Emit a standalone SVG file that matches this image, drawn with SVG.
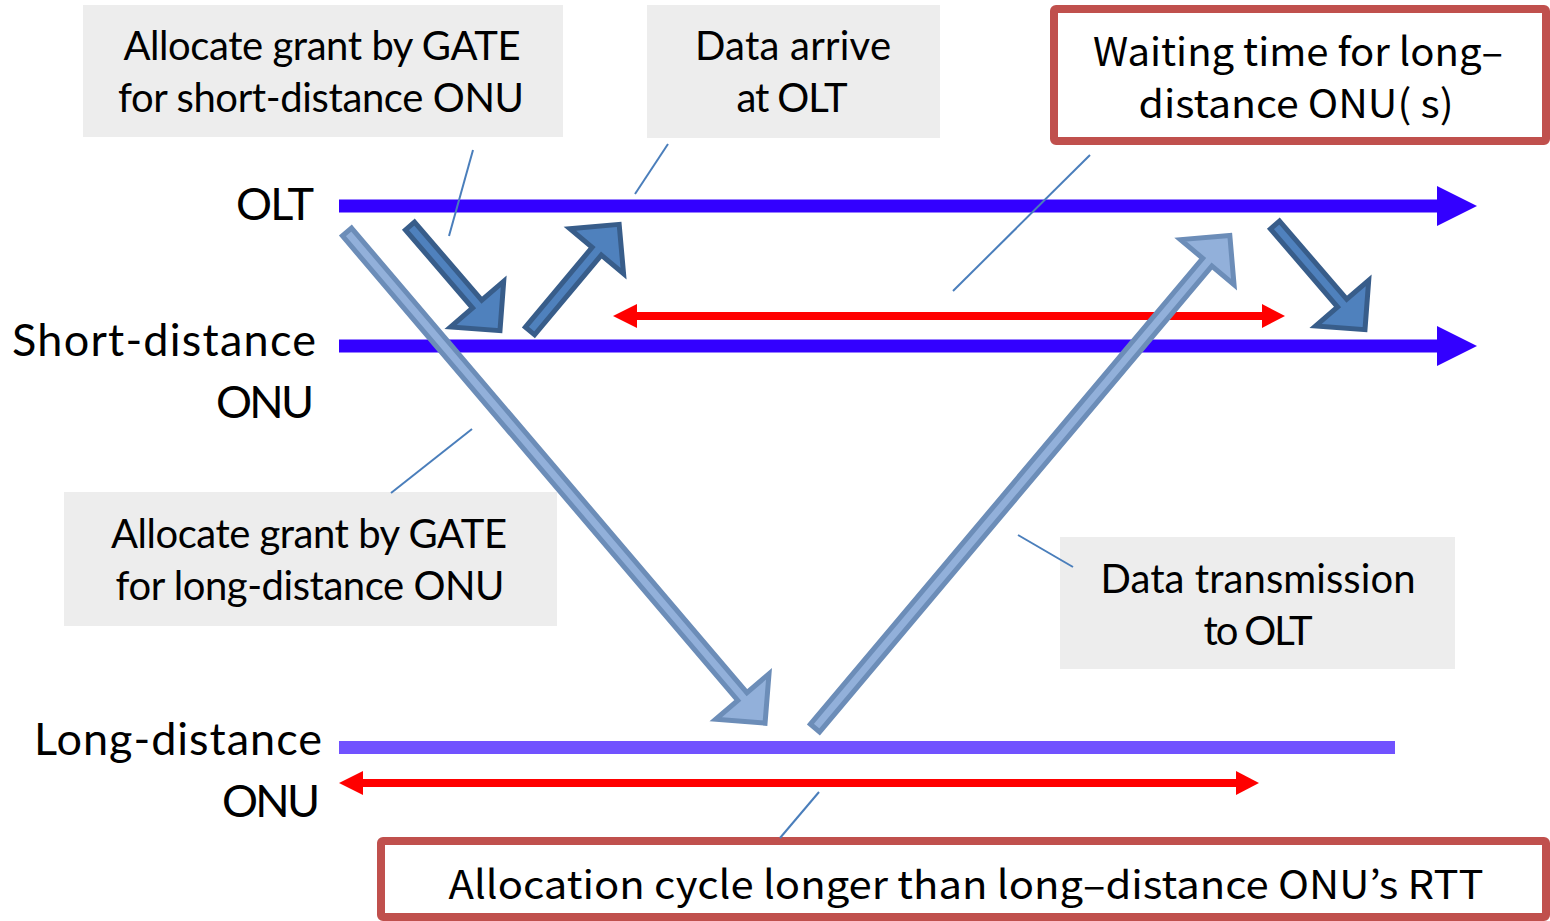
<svg xmlns="http://www.w3.org/2000/svg" width="1550" height="921" viewBox="0 0 1550 921">
<defs>
<style>
.gbox{fill:#EDEDED;}
.rbox{fill:#FFFFFF;stroke:#C0504D;stroke-width:8;}
.lead{stroke:#4A7EBB;stroke-width:2;fill:none;}
.dark{fill:#4F81BD;stroke:#385D8A;stroke-width:5;stroke-linejoin:miter;}
.light{fill:#92B0DA;stroke:#6C8DB8;stroke-width:5;stroke-linejoin:miter;}
.t{font-family:Lato,"Open Sans","Liberation Sans",sans-serif;font-size:40px;fill:#000;text-anchor:middle;}
.lbl{font-family:Lato,"Open Sans","Liberation Sans",sans-serif;font-size:45px;fill:#000;text-anchor:end;}
.jp{font-family:"Noto Sans CJK JP","Noto Sans",sans-serif;font-size:39px;fill:#000;text-anchor:middle;}
</style>
</defs>

<g id="box-gate-short"><rect class="gbox" x="83" y="5" width="480" height="132"/>
<text class="t" x="322" y="60" textLength="397">Allocate grant by GATE</text>
<text class="t" x="321" y="112" textLength="406">for short-distance ONU</text></g>

<g id="box-data-arrive"><rect class="gbox" x="647" y="5" width="293" height="133"/>
<text class="t" x="793" y="60" textLength="196">Data arrive</text>
<text class="t" x="792" y="112" textLength="111">at OLT</text></g>

<g id="box-waiting"><rect class="rbox" x="1054" y="9" width="492" height="132" rx="2"/>
<text class="jp" x="1298" y="66" textLength="410" lengthAdjust="spacingAndGlyphs">Waiting time for long–</text>
<text class="jp" x="1296" y="118" textLength="315" lengthAdjust="spacingAndGlyphs">distance ONU( s)</text></g>

<g id="box-gate-long"><rect class="gbox" x="64" y="492" width="493" height="134"/>
<text class="t" x="309" y="548" textLength="396">Allocate grant by GATE</text>
<text class="t" x="310" y="600" textLength="389">for long-distance ONU</text></g>

<g id="box-data-tx"><rect class="gbox" x="1060" y="537" width="395" height="132"/>
<text class="t" x="1258" y="593" textLength="315">Data transmission</text>
<text class="t" x="1258" y="645" textLength="109">to OLT</text></g>

<g id="box-cycle"><rect class="rbox" x="381" y="841" width="1165" height="76" rx="2"/>
<text class="jp" x="966" y="899" textLength="1035" lengthAdjust="spacingAndGlyphs">Allocation cycle  longer than long–distance ONU’s RTT</text></g>

<g id="label-olt"><text class="lbl" x="314" y="220" textLength="78">OLT</text></g>
<g id="label-short"><text class="lbl" x="316" y="356" textLength="304">Short-distance</text>
<text class="lbl" x="314" y="418" textLength="98">ONU</text></g>
<g id="label-long"><text class="lbl" x="322" y="755" textLength="288">Long-distance</text>
<text class="lbl" x="320" y="817" textLength="98">ONU</text></g>

<g id="connectors">
<g id="timelines">
<rect x="339" y="199.5" width="1099" height="13" fill="#3300FF"/>
<polygon points="1437,186 1477,206 1437,226" fill="#3300FF"/>
<rect x="339" y="339.5" width="1099" height="13" fill="#3300FF"/>
<polygon points="1437,326 1477,346 1437,366" fill="#3300FF"/>
<rect x="339" y="741" width="1056" height="13" fill="#7152FF"/>
</g>
<g id="leaders">
<line class="lead" x1="473" y1="150" x2="449" y2="236"/>
<line class="lead" x1="668" y1="144" x2="635" y2="194"/>
<line class="lead" x1="1090" y1="155" x2="953" y2="291"/>
<line class="lead" x1="472" y1="429" x2="391" y2="493"/>
<line class="lead" x1="1018" y1="535" x2="1073" y2="567"/>
<line class="lead" x1="819" y1="792" x2="780" y2="838"/>
</g>
<g id="red-arrows" fill="#FF0000">
<rect x="636" y="312" width="627" height="8"/>
<polygon points="613,316 637,304 637,328"/>
<polygon points="1285,316 1262,304 1262,328"/>
<rect x="362" y="779" width="875" height="8"/>
<polygon points="339,783 363,771 363,795"/>
<polygon points="1259,783 1236,771 1236,795"/>
</g>
<g id="long-arrows">
<path class="light" transform="translate(347,232) rotate(49.6)" d="M0,-6 L610,-6 L610,-35 L645,0 L610,35 L610,6 L0,6 Z"/>
<path class="light" transform="translate(815,728) rotate(-49.9)" d="M0,-6 L609,-6 L609,-35 L644,0 L609,35 L609,6 L0,6 Z"/>
</g>
<g id="short-arrows">
<path class="dark" transform="translate(410,226) rotate(49.3)" d="M0,-6 L103,-6 L103,-35 L138,0 L103,35 L103,6 L0,6 Z"/>
<path class="dark" transform="translate(530,331) rotate(-50.1)" d="M0,-6 L104,-6 L104,-35 L139,0 L104,35 L104,6 L0,6 Z"/>
<path class="dark" transform="translate(1275,225) rotate(49.3)" d="M0,-6 L103,-6 L103,-35 L138,0 L103,35 L103,6 L0,6 Z"/>
</g>
</g>
</svg>
